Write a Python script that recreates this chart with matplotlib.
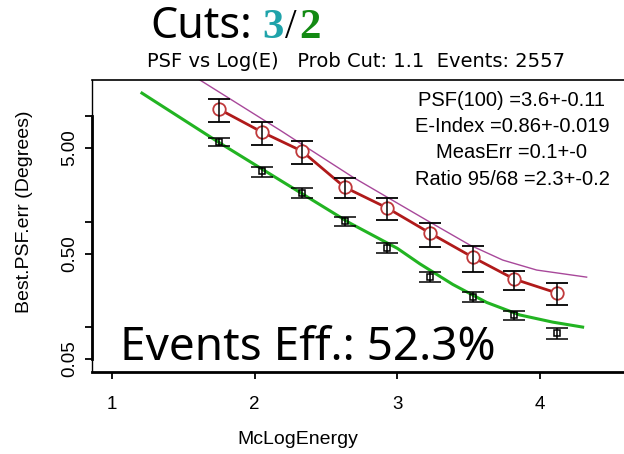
import matplotlib
matplotlib.use('Agg')
import matplotlib.pyplot as plt

# ---- data ----
log_e = [1.75, 2.05, 2.33, 2.63, 2.93, 3.23, 3.53, 3.82, 4.12]

# 95% containment (red circles)
psf95 = [11.7, 7.1, 4.69, 2.13, 1.35, 0.78, 0.46, 0.286, 0.211]
psf95_err = [2.8, 1.75, 1.15, 0.46, 0.32, 0.2, 0.125, 0.058, 0.05]

# 68% containment (black squares)
psf68 = [5.7, 3.0, 1.87, 1.02, 0.565, 0.30, 0.195, 0.13, 0.088]
psf68_err = [0.5, 0.33, 0.2, 0.1, 0.062, 0.033, 0.02, 0.013, 0.01]

# fitted model curves
fit68_x = [1.21, 1.756, 2.176, 2.667, 3.0, 3.157, 3.388, 3.626, 3.857, 4.088, 4.298]
fit68_y = [16.6, 5.58, 2.49, 0.973, 0.56, 0.40, 0.255, 0.172, 0.131, 0.112, 0.1005]
fit95_x = [1.40, 1.616, 2.176, 2.688, 3.227, 3.507, 3.738, 3.976, 4.326]
fit95_y = [33.0, 22.1, 7.41, 2.65, 0.995, 0.603, 0.434, 0.349, 0.299]

ytick_vals = [0.05, 0.1, 0.5, 1, 5, 10]
ytick_labels = ['0.05', '', '0.50', '', '5.00', '']
xtick_vals = [1, 2, 3, 4]

stats = "PSF(100) =3.6+-0.11\nE-Index =0.86+-0.019\nMeasErr =0.1+-0\nRatio 95/68 =2.3+-0.2"

plt.rcParams['font.family'] = ['Liberation Sans', 'DejaVu Sans']

W, H = 624, 454
fig = plt.figure(figsize=(W / 100, H / 100), dpi=100)
ax = fig.add_axes([92 / W, (H - 372) / H, (640 - 92) / W, (372 - 80) / H])
ax.set_yscale('log')
ax.set_xlim(0.86, 4.70)
ax.set_ylim(0.0377, 22.1)

# curves
ax.plot(fit95_x, fit95_y, color='#a8489a', lw=1.0, zorder=2)
ax.plot(fit68_x, fit68_y, color='#22b422', lw=2.2, zorder=2)

# red points
ax.plot(log_e, psf95, color='#b01a1a', lw=2.0, zorder=2)
ax.plot(log_e, psf95, ls='none', marker='o', ms=9, mfc='white', mec='#c0393b',
        mew=1.3, zorder=2.5)
ax.errorbar(log_e, psf95, yerr=psf95_err, fmt='none', ecolor='black',
            elinewidth=1.1, capsize=8, capthick=1.3, zorder=3)

# black points
ax.errorbar(log_e, psf68, yerr=psf68_err, fmt='s', ms=5, mfc='none', mec='black',
            mew=1.1, ecolor='black', elinewidth=1.1, capsize=8, capthick=1.3, zorder=3)

# axes look (S-Plus style)
ax.spines['right'].set_visible(False)
ax.spines['top'].set_linewidth(1.2)
ax.spines['bottom'].set_linewidth(2.0)
ax.spines['left'].set_linewidth(2.0)
ax.spines['left'].set_bounds(0.05, 10)
ax.plot([0, 0], [0, 1], transform=ax.transAxes, color='black', lw=1.0, clip_on=False)

ax.set_xticks(xtick_vals)
ax.set_xticklabels([str(v) for v in xtick_vals])
ax.set_yticks(ytick_vals)
ax.set_yticklabels(ytick_labels, rotation=90, va='center')
ax.minorticks_off()
ax.tick_params(axis='both', direction='out', length=5, width=1.3, labelsize=13.5,
               colors='black')
ax.tick_params(axis='x', pad=12)
ax.tick_params(axis='y', pad=5)

ax.set_xlabel('McLogEnergy', fontsize=14)
ax.xaxis.set_label_coords((298 - 92) / 548, (372 - 431) / 292)
ax.set_ylabel('Best.PSF.err (Degrees)', fontsize=14)
ax.yaxis.set_label_coords((33 - 92) / 548, (372 - 212) / 292)

ax.text((512 - 92) / 548, 1 - (91 - 80) / 292, stats,
        transform=ax.transAxes, ha='center', va='top', fontsize=14.5,
        linespacing=1.48, multialignment='center')

# titles
fig.text(150 / W, 1 - 38 / H, 'Cuts:', fontsize=31, family='Noto Sans', ha='left',
         va='baseline')
fig.text(262 / W, 1 - 38 / H, '3', fontsize=31, family='Liberation Serif',
         weight='bold', color='#1fa3aa', ha='left', va='baseline')
fig.text(285 / W, 1 - 38 / H, '/', fontsize=30, family='Liberation Serif',
         ha='left', va='baseline')
fig.text(299 / W, 1 - 38 / H, '2', fontsize=31, family='Liberation Serif',
         weight='bold', color='#138a13', ha='left', va='baseline')
fig.text(356 / W, 1 - 67 / H, 'PSF vs Log(E)   Prob Cut: 1.1  Events: 2557',
         fontsize=14, family='DejaVu Sans', ha='center', va='baseline')

fig.text(120 / W, 1 - 360 / H, 'Events Eff.: 52.3%', fontsize=33, family='Noto Sans',
         ha='left', va='baseline')

fig.savefig('out.png', dpi=100)
